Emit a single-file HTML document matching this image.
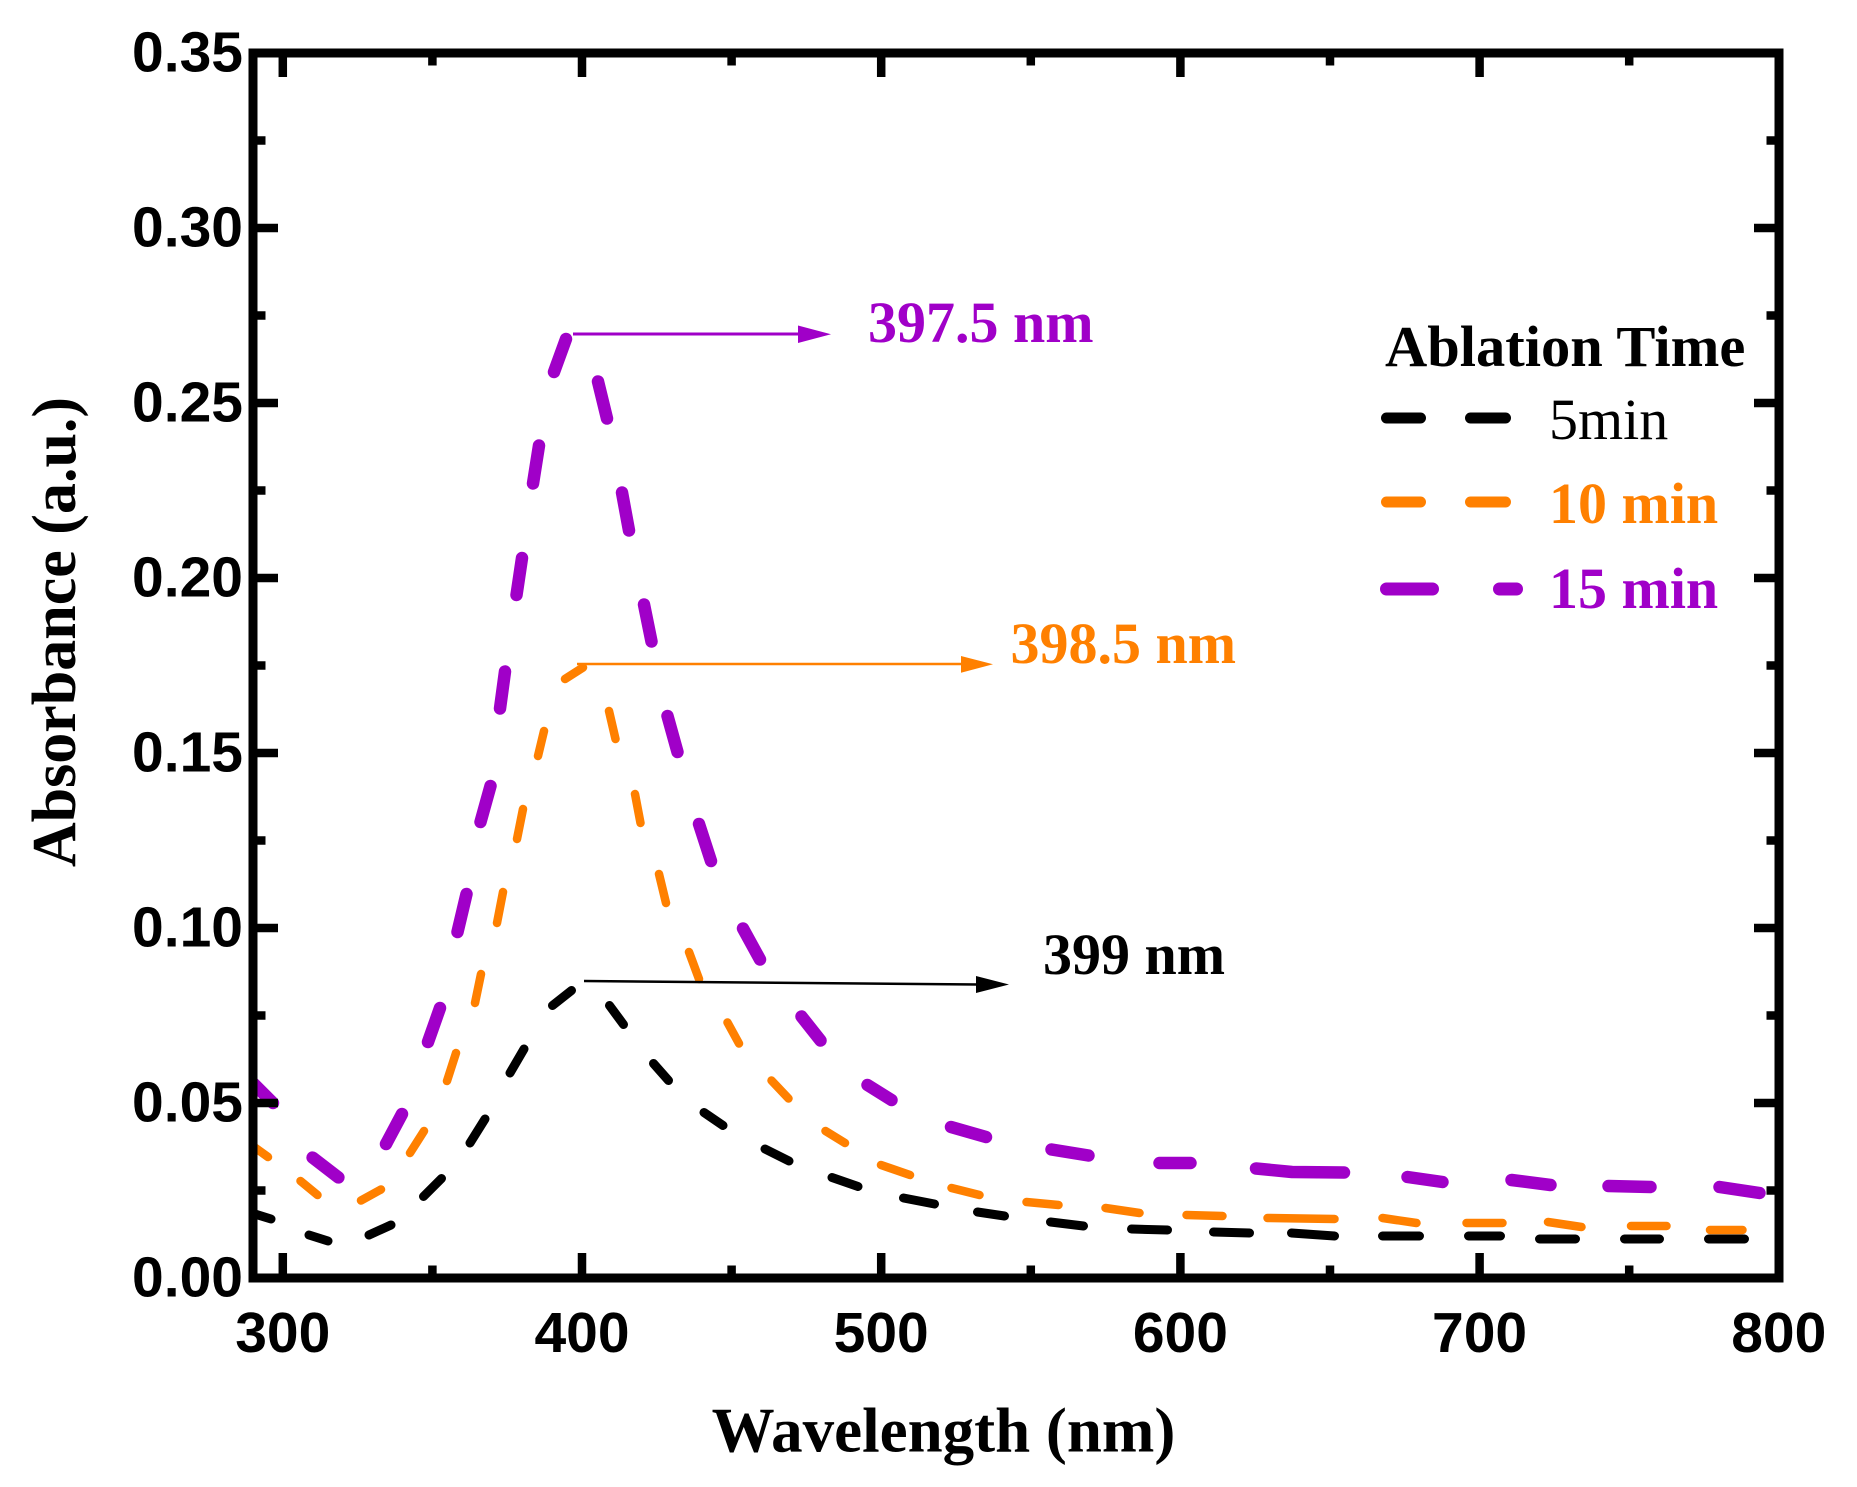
<!DOCTYPE html>
<html>
<head>
<meta charset="utf-8">
<style>
  html, body { margin: 0; padding: 0; background: #ffffff; }
  svg { display: block; }
  .tick { font-family: "Liberation Sans", Arial, sans-serif; font-weight: bold; font-size: 57px; fill: #000; }
  .serif { font-family: "Liberation Serif", "Times New Roman", serif; }
</style>
</head>
<body>
<svg width="1857" height="1487" viewBox="0 0 1857 1487" xmlns="http://www.w3.org/2000/svg">
  <defs>
    <clipPath id="plot">
      <rect x="253" y="53" width="1526" height="1225"/>
    </clipPath>
  </defs>
  <rect x="0" y="0" width="1857" height="1487" fill="#ffffff"/>

  <g clip-path="url(#plot)" fill="none" stroke-linecap="round" stroke-linejoin="round">
    <!-- 5 min (black) -->
    <path stroke="#000000" stroke-width="9" d="
      M250,1212.5 L271,1219
      M309,1235 L328,1241
      M369,1235 L391,1225
      M423.5,1196.5 L441.5,1178.5
      M470,1143 L485,1119
      M510,1073 L524,1049
      M552.5,1005.5 L571.5,990.5
      M609.5,1005.5 L623.5,1024.5
      M653.5,1063.5 L668.5,1080.5
      M704,1112.5 L723,1125.5
      M765,1149 L789,1161
      M832,1177.5 L858,1186.5
      M903.5,1198 L934.5,1204
      M977.5,1212 L1004.5,1216
      M1050.5,1222 L1083.5,1226
      M1131.5,1229 L1167.5,1230
      M1213.5,1232 L1249.5,1233
      M1291.5,1233 L1334.5,1236
      M1382.5,1236 L1419.5,1236
      M1468.5,1236 L1500.5,1236
      M1539.5,1239 L1575.5,1239
      M1624.5,1239 L1659.5,1239
      M1708.5,1239 L1744.5,1239"/>
    <!-- 10 min (orange) -->
    <path stroke="#FF8000" stroke-width="8.5" d="
      M250,1144 L268,1157
      M300.5,1181 L317.5,1195
      M361,1200.5 L381,1189.5
      M410,1153 L424,1131
      M447,1081 L456,1053
      M475,1003 L481,974
      M497,923 L503,892
      M517,839 L523,809
      M538,756 L544,731
      M565,679 L583,667.5
      M609,711 L615.5,739
      M635,794 L640.5,823
      M659,874 L666,903
      M689,952 L699,979
      M727.5,1022.5 L739,1043.5
      M771.5,1080.5 L788.5,1098.5
      M825.5,1131 L845,1143
      M881,1165 L910,1175
      M951.5,1188 L979.5,1195
      M1026.5,1202 L1058.5,1205
      M1105.5,1208 L1139.5,1213
      M1186.5,1215 L1222.5,1216
      M1267.5,1218 L1334.5,1219
      M1382.5,1218 L1416.5,1223
      M1466.5,1223 L1502.5,1223
      M1548,1222 L1581.5,1227
      M1631,1226 L1666.5,1226
      M1710,1230 L1742.5,1230"/>
    <!-- 15 min (purple) -->
    <path stroke="#A000C8" stroke-width="12.5" d="
      M250,1080 L273,1103
      M312.6,1157.6 L338.4,1177.4
      M386,1144 L402,1114
      M428,1042 L440,1008
      M457.5,932 L466.5,894
      M480.5,822 L490.5,786
      M500,708.5 L505,671.5
      M516.5,595 L522,558
      M533,483.5 L539,445.5
      M554,372 L566,339
      M598,381.5 L607,418.5
      M622,492.5 L629,530.5
      M644,604.5 L651.5,641.5
      M667.5,716 L677.5,752
      M699,824 L711,861
      M743,928.5 L760,959.5
      M801.5,1016.5 L820.5,1040.5
      M867.5,1085 L891.5,1100
      M951,1127 L986,1137
      M1051.5,1149.5 L1088.5,1155.5
      M1159.5,1163 L1190.5,1163
      M1256,1168.5 L1292,1172 L1344,1172.5
      M1407.5,1177 L1442.5,1182
      M1511.5,1180 L1550.5,1185
      M1608.5,1186 L1650.5,1187
      M1719.5,1187 L1759.5,1193"/>
  </g>

  <!-- peak annotation arrows -->
  <line x1="573" y1="334" x2="800" y2="334" stroke="#A000C8" stroke-width="3"/>
  <polygon points="798,325.5 831,334.3 798,343" fill="#A000C8"/>
  <line x1="577" y1="664" x2="963" y2="664" stroke="#FF8000" stroke-width="2.5"/>
  <polygon points="961,656 993,664.3 961,672.7" fill="#FF8000"/>
  <line x1="584" y1="981" x2="978" y2="984.5" stroke="#000000" stroke-width="2.5"/>
  <polygon points="976,976 1009,984.5 976,993" fill="#000000"/>

  <text class="serif" x="868" y="342" font-size="58" font-weight="bold" fill="#A000C8">397.5 nm</text>
  <text class="serif" x="1010.5" y="663" font-size="58" font-weight="bold" fill="#FF8000">398.5 nm</text>
  <text class="serif" x="1043" y="974" font-size="58" font-weight="bold" fill="#000000">399 nm</text>

  <!-- legend -->
  <text class="serif" x="1385" y="366" font-size="58.5" font-weight="bold" fill="#000">Ablation Time</text>
  <g stroke-linecap="round" fill="none">
    <path stroke="#000000" stroke-width="11" d="M1386.5,418 L1420.5,418 M1470.5,418 L1505.5,418"/>
    <path stroke="#FF8000" stroke-width="11" d="M1386.5,502 L1420.5,502 M1470.5,502 L1505.5,502"/>
    <path stroke="#A000C8" stroke-width="13" d="M1386.5,589 L1432.5,589 M1499.5,589 L1516.5,589"/>
  </g>
  <text class="serif" x="1549" y="439" font-size="58" fill="#000000">5min</text>
  <text class="serif" x="1549" y="523" font-size="58" font-weight="bold" fill="#FF8000">10 min</text>
  <text class="serif" x="1549" y="608" font-size="58" font-weight="bold" fill="#A000C8">15 min</text>

  <!-- ticks -->
  <g stroke="#000" stroke-width="8.5" fill="none">
    <path d="M282.8,1278 V1253 M582,1278 V1253 M881.2,1278 V1253 M1180.4,1278 V1253 M1479.6,1278 V1253"/>
    <path d="M432.4,1278 V1265.5 M731.6,1278 V1265.5 M1030.8,1278 V1265.5 M1330,1278 V1265.5 M1629.2,1278 V1265.5"/>
    <path d="M282.8,53 V77 M582,53 V77 M881.2,53 V77 M1180.4,53 V77 M1479.6,53 V77"/>
    <path d="M432.4,53 V65.5 M731.6,53 V65.5 M1030.8,53 V65.5 M1330,53 V65.5 M1629.2,53 V65.5"/>
    <path d="M253,1103 H278 M253,928 H278 M253,753 H278 M253,578 H278 M253,403 H278 M253,228 H278"/>
    <path d="M253,1190.5 H265.5 M253,1015.5 H265.5 M253,840.5 H265.5 M253,665.5 H265.5 M253,490.5 H265.5 M253,315.5 H265.5 M253,140.5 H265.5"/>
    <path d="M1779,1103 H1754 M1779,928 H1754 M1779,753 H1754 M1779,578 H1754 M1779,403 H1754 M1779,228 H1754"/>
    <path d="M1779,1190.5 H1766.5 M1779,1015.5 H1766.5 M1779,840.5 H1766.5 M1779,665.5 H1766.5 M1779,490.5 H1766.5 M1779,315.5 H1766.5 M1779,140.5 H1766.5"/>
  </g>

  <!-- frame -->
  <rect x="253" y="53" width="1526" height="1225" fill="none" stroke="#000" stroke-width="9"/>

  <!-- y tick labels -->
  <g class="tick" text-anchor="end">
    <text x="243" y="1296.5">0.00</text>
    <text x="243" y="1121.5">0.05</text>
    <text x="243" y="946.5">0.10</text>
    <text x="243" y="771.5">0.15</text>
    <text x="243" y="596.5">0.20</text>
    <text x="243" y="421.5">0.25</text>
    <text x="243" y="246.5">0.30</text>
    <text x="243" y="71.5">0.35</text>
  </g>
  <!-- x tick labels -->
  <g class="tick" text-anchor="middle">
    <text x="282.8" y="1352">300</text>
    <text x="582" y="1352">400</text>
    <text x="881.2" y="1352">500</text>
    <text x="1180.4" y="1352">600</text>
    <text x="1479.6" y="1352">700</text>
    <text x="1778.8" y="1352">800</text>
  </g>

  <!-- axis titles -->
  <text class="serif" x="943.5" y="1451.5" font-size="63" font-weight="bold" text-anchor="middle" fill="#000">Wavelength (nm)</text>
  <text class="serif" transform="translate(75,632) rotate(-90)" x="0" y="0" font-size="62" font-weight="bold" text-anchor="middle" fill="#000">Absorbance (a.u.)</text>
</svg>
</body>
</html>
